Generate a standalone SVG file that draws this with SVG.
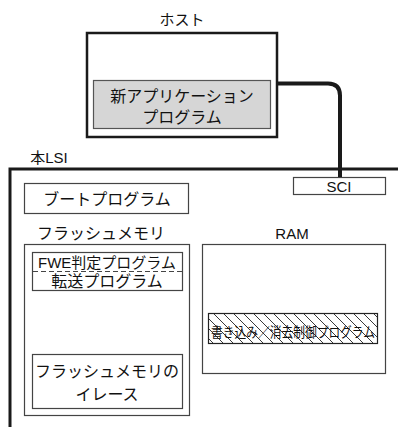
<svg xmlns="http://www.w3.org/2000/svg" width="398" height="427" viewBox="0 0 398 427">
<style>
text{font-family:"Liberation Sans","Noto Sans CJK JP",sans-serif;fill:#111;text-anchor:middle}
.t16{font-size:16px}
.t15{font-size:15px}
.box{fill:#fff;stroke:#444;stroke-width:1.2}
.thick{fill:none;stroke:#1a1a1a}
</style>
<defs>
<pattern id="hatch" patternUnits="userSpaceOnUse" width="10" height="10">
<path d="M0,0 L10,10 M-5,5 L5,15 M5,-5 L15,5" stroke="#222" stroke-width="0.9"/>
</pattern>
</defs>
<g id="host">
<text x="182" y="25" class="t15">ホスト</text>
<rect x="87" y="33" width="190" height="104" fill="#fff" stroke="#1a1a1a" stroke-width="2.5"/>
</g>
<g id="new-app">
<rect x="93.5" y="80.5" width="177" height="48" fill="#d6d6d6" stroke="#555" stroke-width="1.2"/>
<text x="182" y="102" class="t16">新アプリケーション</text>
<text x="182" y="123" class="t16">プログラム</text>
</g>
<g id="lsi">
<text x="49" y="163" class="t15">本LSI</text>
<path d="M10,427 V169 H398" class="thick" stroke-width="3"/>
</g>
<g id="sci">
<rect x="293.5" y="177.5" width="92" height="17" class="box"/>
<text x="339" y="192" class="t15">SCI</text>
</g>
<g id="boot">
<rect x="24.5" y="183.5" width="164" height="30" class="box"/>
<text x="107" y="205" class="t16">ブートプログラム</text>
</g>
<g id="flash">
<text x="101" y="239" class="t16">フラッシュメモリ</text>
<rect x="24.5" y="244.5" width="165" height="171" class="box"/>
</g>
<g id="fwe">
<rect x="32.5" y="252.5" width="150" height="38" class="box"/>
<line x1="33" y1="271.5" x2="182" y2="271.5" stroke="#444" stroke-width="1.2" stroke-dasharray="5,3"/>
<text x="107" y="268" class="t15">FWE判定プログラム</text>
<text x="107" y="287" class="t16">転送プログラム</text>
</g>
<g id="erase">
<rect x="32.5" y="354.5" width="150" height="54" class="box"/>
<text x="107" y="377" class="t16">フラッシュメモリの</text>
<text x="107" y="400" class="t16">イレース</text>
</g>
<g id="ram">
<text x="292" y="239" class="t15">RAM</text>
<rect x="202.5" y="244.5" width="183" height="129" class="box"/>
</g>
<g id="write-erase">
<rect x="208.5" y="313.5" width="169" height="30" fill="url(#hatch)" stroke="#222" stroke-width="1.2"/>
<text x="293" y="337" font-size="13.5" textLength="164" lengthAdjust="spacingAndGlyphs">書き込み／消去制御プログラム</text>
</g>
<g id="connectors">
<path d="M277,83.5 H328 Q340,83.5 340,95.5 V177" class="thick" stroke-width="4"/>
</g>
</svg>
